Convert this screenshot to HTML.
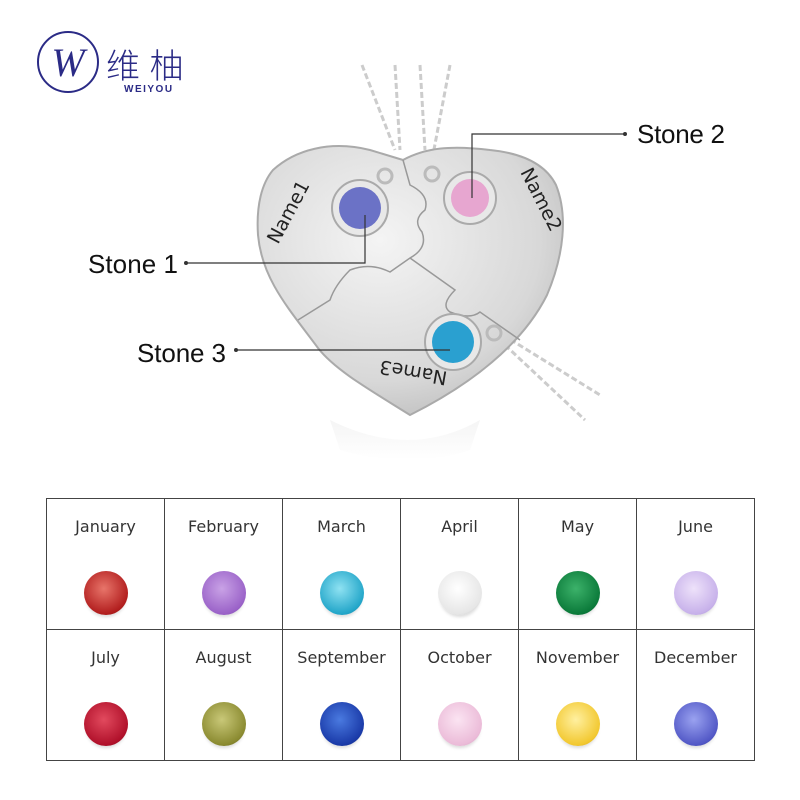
<!DOCTYPE html>
<html><head><style>
html,body{margin:0;padding:0;background:#fff;}
body{width:800px;height:800px;position:relative;overflow:hidden;font-family:"Liberation Sans",sans-serif;}
table{position:absolute;left:46px;top:498px;border-collapse:collapse;}
td{width:117px;height:130px;border:1.5px solid #444;vertical-align:top;text-align:center;padding:0;}
td div.l{font-family:"DejaVu Sans","Liberation Sans",sans-serif;font-size:16px;color:#333;margin-top:18px;height:20px;}
td div.g{width:44px;height:44px;border-radius:50%;margin:34px auto 0;box-shadow:0 4px 3px -2px rgba(0,0,0,.15);}
</style></head><body>
<svg width="800" height="480" style="position:absolute;left:0;top:0">
<defs>
<radialGradient id="met" cx="40%" cy="35%" r="75%"><stop offset="0" stop-color="#f4f4f4"/><stop offset=".7" stop-color="#d8d8d8"/><stop offset="1" stop-color="#b8b8b8"/></radialGradient>
<linearGradient id="ref" x1="0" y1="0" x2="0" y2="1"><stop offset="0" stop-color="#eee"/><stop offset="1" stop-color="#fff"/></linearGradient>
</defs>
<circle cx="68" cy="62" r="30" fill="none" stroke="#2b2b86" stroke-width="2"/>
<text x="68" y="76" font-family="Liberation Serif,serif" font-size="40" font-style="italic" fill="#2b2b86" text-anchor="middle">W</text>
<text x="106" y="78" font-family="Liberation Sans,Noto Sans CJK SC,sans-serif" font-size="34" font-weight="300" fill="#2b2b86">维 柚</text>
<text x="124" y="92" font-family="Liberation Sans,sans-serif" font-size="10" font-weight="bold" letter-spacing="1.5" fill="#2b2b86">WEIYOU</text>
<g fill="none" stroke="#ccc" stroke-width="3" stroke-dasharray="6 3">
<path d="M362 65 L395 150"/><path d="M395 65 L400 150"/><path d="M420 65 L425 150"/><path d="M450 65 L432 160"/>
<path d="M495 330 L600 395"/><path d="M505 345 L585 420"/>
</g>
<path d="M330 420 Q410 460 480 420 L470 450 Q410 470 340 450Z" fill="url(#ref)" opacity=".6"/>
<path d="M273 170 C295 150 330 140 370 150 L403 160 C425 148 450 145 490 150 C520 153 545 163 556 185 C568 215 564 255 547 295 C522 345 470 385 410 415 C370 390 335 370 318 348 C290 310 262 280 258 235 C256 205 262 183 273 170Z" fill="url(#met)" stroke="#aaa" stroke-width="2"/>
<g fill="none" stroke="#999" stroke-width="1.5">
<path d="M403 160 L410 185 Q430 195 425 210 Q412 220 422 232 Q428 248 410 258 L390 272 Q370 262 350 270 Q335 285 330 300 L298 320"/>
<path d="M410 258 L455 290 Q440 305 450 312 Q470 320 480 312 L520 340"/>
</g>
<g fill="none" stroke="#bbb" stroke-width="3">
<circle cx="385" cy="176" r="7"/><circle cx="432" cy="174" r="7"/><circle cx="494" cy="333" r="7"/>
</g>
<circle cx="360" cy="208" r="28" fill="#e8e8e8" stroke="#aaa" stroke-width="2"/>
<circle cx="360" cy="208" r="21" fill="#6b72c6"/>
<circle cx="470" cy="198" r="26" fill="#e8e8e8" stroke="#aaa" stroke-width="2"/>
<circle cx="470" cy="198" r="19" fill="#e7a6d0"/>
<circle cx="453" cy="342" r="28" fill="#e8e8e8" stroke="#aaa" stroke-width="2"/>
<circle cx="453" cy="342" r="21" fill="#2aa0d0"/>
<text font-family="DejaVu Sans,sans-serif" font-size="19" fill="#222" transform="translate(278,245) rotate(-62)">Name1</text>
<text font-family="DejaVu Sans,sans-serif" font-size="19" fill="#222" transform="translate(520,172) rotate(63)">Name2</text>
<text font-family="DejaVu Sans,sans-serif" font-size="19" fill="#222" transform="translate(448,372) rotate(190)">Name3</text>
<g stroke="#333" stroke-width="1.2" fill="none">
<path d="M186 263 L365 263 L365 215"/>
<path d="M625 134 L472 134 L472 198"/>
<path d="M236 350 L450 350"/>
</g>
<g fill="#333"><circle cx="186" cy="263" r="2"/><circle cx="625" cy="134" r="2"/><circle cx="236" cy="350" r="2"/></g>
<g font-family="Liberation Sans,sans-serif" font-size="26" fill="#111">
<text x="88" y="273" textLength="90">Stone 1</text>
<text x="637" y="143" textLength="88">Stone 2</text>
<text x="137" y="362" textLength="89">Stone 3</text>
</g>
</svg>
<table>
<tr>
<td><div class="l">January</div><div class="g" style="background:radial-gradient(circle at 45% 40%,#e8756a,#b21e1e 70%,#6a0c0c)"></div></td>
<td><div class="l">February</div><div class="g" style="background:radial-gradient(circle at 45% 40%,#c9a2e6,#9a62c8 70%,#6d3d9a)"></div></td>
<td><div class="l">March</div><div class="g" style="background:radial-gradient(circle at 45% 40%,#8fe2f2,#23a6c9 70%,#0e6f8f)"></div></td>
<td><div class="l">April</div><div class="g" style="background:radial-gradient(circle at 45% 40%,#fff,#e6e6e6 70%,#aaa)"></div></td>
<td><div class="l">May</div><div class="g" style="background:radial-gradient(circle at 45% 40%,#3cb26a,#0b7a3a 70%,#064a22)"></div></td>
<td><div class="l">June</div><div class="g" style="background:radial-gradient(circle at 45% 40%,#eee2fa,#c7b1ea 70%,#9a82c8)"></div></td>
</tr>
<tr>
<td><div class="l">July</div><div class="g" style="background:radial-gradient(circle at 45% 40%,#e24a5e,#b0102a 70%,#6a0616)"></div></td>
<td><div class="l">August</div><div class="g" style="background:radial-gradient(circle at 45% 40%,#c9c878,#8a8a30 70%,#4e4e16)"></div></td>
<td><div class="l">September</div><div class="g" style="background:radial-gradient(circle at 45% 40%,#4a7ae0,#1a3aa8 70%,#0c1e66)"></div></td>
<td><div class="l">October</div><div class="g" style="background:radial-gradient(circle at 45% 40%,#fbe4f2,#ebbbd8 70%,#c890b0)"></div></td>
<td><div class="l">November</div><div class="g" style="background:radial-gradient(circle at 45% 40%,#fff0a0,#f2c830 70%,#c08e0a)"></div></td>
<td><div class="l">December</div><div class="g" style="background:radial-gradient(circle at 45% 40%,#9aa2f0,#5258c6 70%,#2c2e8a)"></div></td>
</tr>
</table>
</body></html>
